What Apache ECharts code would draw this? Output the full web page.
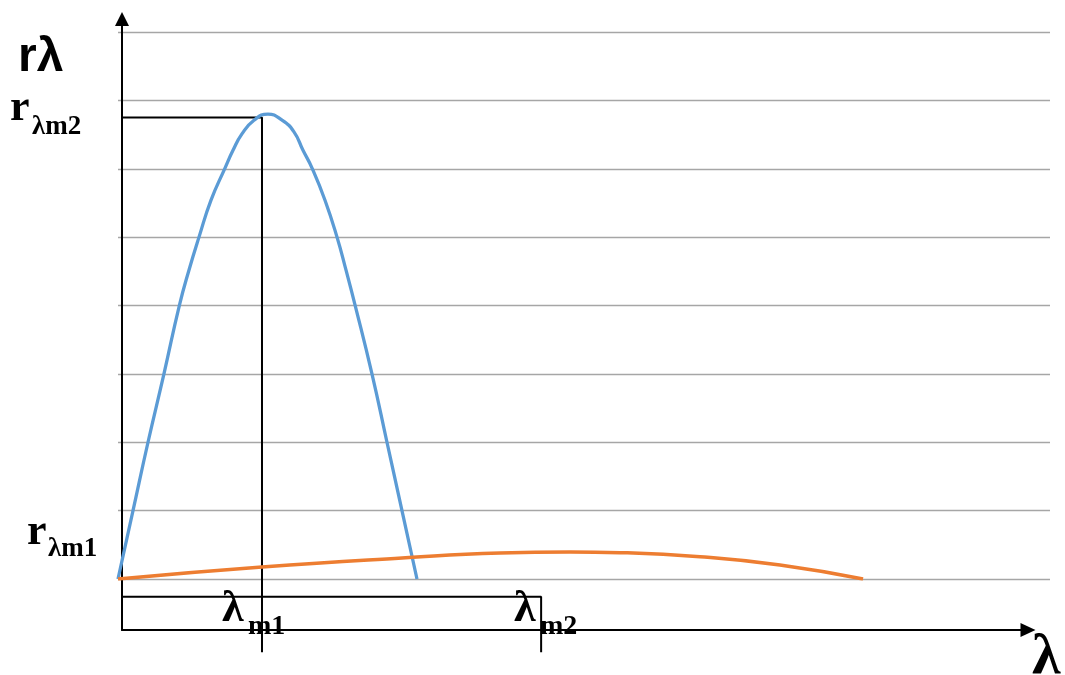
<!DOCTYPE html>
<html>
<head>
<meta charset="utf-8">
<title>r-lambda curves</title>
<script src="https://cdn.jsdelivr.net/npm/echarts@6.0.0/dist/echarts.min.js"></script>
<style>
  html, body { margin: 0; padding: 0; background: #fff; }
  #chart { width: 1065px; height: 675px; }
</style>
</head>
<body>
<div id="chart"></div>
<script>
// curve samples, [lambda, r] (lambda in 0..100, r in 0..8 grid units)
const blueCurve = [
  [0, 0], [1.61, 1], [3.22, 2], [4.93, 3], [6.6, 4.01], [7.62, 4.52],
  [8.69, 5], [9.98, 5.54], [11.48, 6.01], [12.34, 6.27], [13.3, 6.51],
  [14.59, 6.71], [16.09, 6.8], [17.6, 6.71], [18.88, 6.54], [19.85, 6.27],
  [20.82, 6.01], [22.21, 5.54], [23.5, 5], [24.46, 4.52], [25.43, 4.01],
  [27.25, 3], [28.86, 2], [30.47, 1], [32.08, 0]
]
const orangeCurve = [
  [0, 0], [15.45, 0.175], [30.47, 0.307], [40.99, 0.38], [48.5, 0.395],
  [53.86, 0.385], [62.45, 0.326], [71.03, 0.205], [79.94, 0]
]

// marker positions
const lambdaM1 = 15.45
const lambdaM2 = 45.4
const rM2 = 6.75

const yTicks = [0, 1, 2, 3, 4, 5, 6, 7, 8]

const chart = echarts.init(document.getElementById('chart'), null, { renderer: 'canvas' })

const axisStart = 0.43 // where the black axis sits in lambda units
const baseLine = -0.26 // lambda_m2 guide line, below r = 0
const dropTo = -1.07 // bottom of the vertical guides

const guide = (data) => ({
  type: 'line',
  xAxisIndex: 0,
  yAxisIndex: 0,
  data,
  clip: false,
  symbol: 'none',
  silent: true,
  z: 3,
  lineStyle: { color: '#000', width: 2 },
  animation: false
})

const serif = '"Liberation Serif", "Times New Roman", serif'
const sans = '"Liberation Sans", Arial, sans-serif'
const txt = (text, x, y, size, family) => ({
  type: 'text',
  x,
  y,
  z: 100,
  style: {
    text,
    font: 'bold ' + size + 'px ' + family,
    fill: '#000',
    textAlign: 'left',
    textVerticalAlign: 'middle'
  }
})

chart.setOption({
  animation: false,
  grid: [
    { left: 118, right: 15, top: 32, bottom: 96 },
    { left: 122, right: 37, top: 19, bottom: 45 }
  ],
  xAxis: [
    { type: 'value', gridIndex: 0, min: 0, max: 100, show: false },
    {
      type: 'value', gridIndex: 1, min: 0, max: 1,
      axisLine: {
        onZero: false,
        symbol: ['none', 'triangle'],
        symbolSize: [14, 15],
        lineStyle: { color: '#000', width: 2 }
      },
      axisTick: { show: false },
      axisLabel: { show: false },
      splitLine: { show: false }
    }
  ],
  yAxis: [
    {
      type: 'value', gridIndex: 0, min: yTicks[0], max: yTicks[yTicks.length - 1], interval: 1,
      axisLine: { show: false },
      axisTick: { show: false },
      axisLabel: { show: false },
      splitLine: { lineStyle: { color: '#a6a6a6', width: 1.3 } }
    },
    {
      type: 'value', gridIndex: 1, min: 0, max: 1,
      axisLine: {
        onZero: false,
        symbol: ['none', 'triangle'],
        symbolSize: [14, 14],
        lineStyle: { color: '#000', width: 2 }
      },
      axisTick: { show: false },
      axisLabel: { show: false },
      splitLine: { show: false }
    }
  ],
  series: [
    guide([[axisStart, rM2], [lambdaM1, rM2], [lambdaM1, dropTo]]),
    guide([[axisStart, baseLine], [lambdaM2, baseLine], [lambdaM2, dropTo]]),
    {
      name: 'blue',
      type: 'line',
      data: blueCurve,
      smooth: 0.5,
      symbol: 'none',
      z: 4,
      lineStyle: { color: '#5b9bd5', width: 3.3 }
    },
    {
      name: 'orange',
      type: 'line',
      data: orangeCurve,
      smooth: 0.5,
      symbol: 'none',
      z: 5,
      lineStyle: { color: '#ed7d31', width: 3.5 }
    }
  ],
  graphic: [
    txt('rλ', 18, 58, 48, sans),
    txt('r', 10, 109, 44, serif),
    txt('λm2', 32, 127, 27, serif),
    txt('r', 27, 533, 44, serif),
    txt('λm1', 48, 549, 27, serif),
    txt('λ', 222, 610, 44, serif),
    txt('m1', 248, 627, 28, serif),
    txt('λ', 514, 610, 44, serif),
    txt('m2', 540, 627, 28, serif),
    txt('λ', 1032, 658, 58, serif)
  ]
})
</script>
</body>
</html>
